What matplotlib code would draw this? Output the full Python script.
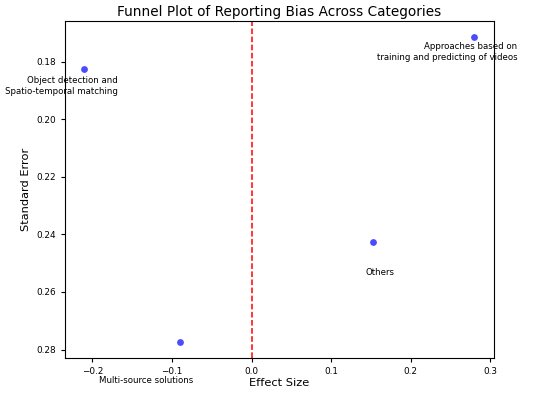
import matplotlib
matplotlib.use("Agg")
import matplotlib.pyplot as plt

categories = ["Object detection and\nSpatio-temporal matching",
              "Multi-source solutions",
              "Others",
              "Approaches based on\ntraining and predicting of videos"]
effect_size = [-0.21, -0.09, 0.153, 0.28]
std_error = [0.1825, 0.2775, 0.2426, 0.1713]
label_x = [-0.1685, -0.132, 0.162, 0.334]
label_y = [0.1884, 0.2907, 0.2532, 0.1766]
label_ha = ["right", "center", "center", "right"]

fig = plt.figure(figsize=(5.5, 3.96), dpi=100)
ax = fig.add_axes([0.118, 0.097, 0.780, 0.849])
ax.scatter(effect_size, std_error, color="blue", alpha=0.7, s=24, zorder=3, linewidths=0)
ax.axvline(0, color="red", linestyle="--", linewidth=1.1)
for c, x, y, ha in zip(categories, label_x, label_y, label_ha):
    ax.text(x, y, c, ha=ha, va="center", fontsize=6.2, multialignment="right")
ax.invert_yaxis()
ax.set_xticks([-0.2, -0.1, 0.0, 0.1, 0.2, 0.3])
ax.set_yticks([0.18, 0.20, 0.22, 0.24, 0.26, 0.28])
ax.tick_params(labelsize=6.4, length=3)
ax.set_xlabel("Effect Size", fontsize=8.2, labelpad=2)
ax.set_ylabel("Standard Error", fontsize=8.2)
ax.set_title("Funnel Plot of Reporting Bias Across Categories", fontsize=9.8, pad=4)
fig.savefig("out.png", dpi=100)
